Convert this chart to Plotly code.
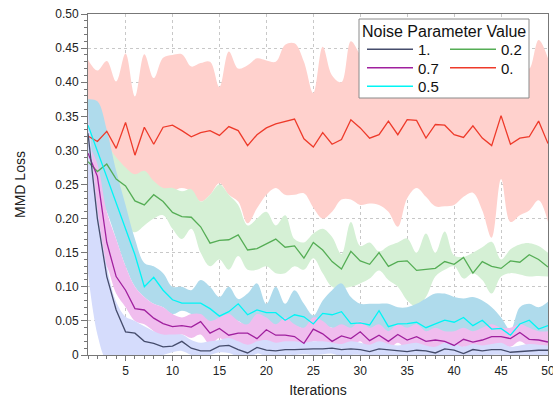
import plotly.graph_objects as go

iterations = list(range(1, 51))

# mean curves
mean_1 = [0.325, 0.200, 0.115, 0.066, 0.034, 0.032, 0.020, 0.017, 0.012, 0.013,
          0.020, 0.010, 0.006, 0.006, 0.013, 0.014, 0.008, 0.003, 0.011, 0.007,
          0.006, 0.008, 0.008, 0.009, 0.009, 0.009, 0.010, 0.008, 0.009, 0.008,
          0.005, 0.009, 0.008, 0.006, 0.005, 0.007, 0.006, 0.003, 0.009, 0.007,
          0.002, 0.008, 0.006, 0.008, 0.008, 0.004, 0.005, 0.007, 0.007, 0.007]
mean_07 = [0.296, 0.262, 0.165, 0.115, 0.095, 0.068, 0.066, 0.054, 0.046, 0.0415,
           0.043, 0.041, 0.049, 0.032, 0.039, 0.029, 0.032, 0.032, 0.024, 0.037,
           0.029, 0.029, 0.027, 0.017, 0.038, 0.031, 0.020, 0.028, 0.024, 0.034,
           0.021, 0.029, 0.020, 0.030, 0.022, 0.027, 0.020, 0.022, 0.020, 0.014,
           0.023, 0.019, 0.022, 0.027, 0.027, 0.024, 0.033, 0.023, 0.022, 0.019]
mean_05 = [0.337, 0.299, 0.261, 0.223, 0.185, 0.147, 0.100, 0.114, 0.095, 0.081,
           0.076, 0.076, 0.076, 0.068, 0.057, 0.0635, 0.075, 0.059, 0.066, 0.062,
           0.062, 0.051, 0.059, 0.056, 0.0455, 0.061, 0.059, 0.0635, 0.046, 0.047,
           0.044, 0.065, 0.0415, 0.0455, 0.046, 0.048, 0.040, 0.0455, 0.051, 0.048,
           0.055, 0.043, 0.051, 0.038, 0.039, 0.029, 0.0455, 0.051, 0.038, 0.043]
mean_02 = [0.2835, 0.269, 0.280, 0.258, 0.248, 0.226, 0.220, 0.235, 0.225, 0.209,
           0.203, 0.202, 0.188, 0.164, 0.168, 0.169, 0.176, 0.154, 0.156, 0.163,
           0.170, 0.158, 0.160, 0.142, 0.165, 0.154, 0.137, 0.126, 0.152, 0.138,
           0.133, 0.150, 0.130, 0.137, 0.138, 0.124, 0.126, 0.127, 0.137, 0.133,
           0.143, 0.120, 0.137, 0.130, 0.127, 0.138, 0.136, 0.147, 0.140, 0.129]
mean_0 = [0.321, 0.313, 0.328, 0.303, 0.341, 0.293, 0.334, 0.309, 0.334, 0.337,
          0.329, 0.320, 0.326, 0.329, 0.322, 0.335, 0.329, 0.307, 0.323, 0.333,
          0.339, 0.343, 0.346, 0.317, 0.305, 0.326, 0.309, 0.316, 0.345, 0.333,
          0.318, 0.323, 0.343, 0.323, 0.345, 0.344, 0.318, 0.338, 0.337, 0.323,
          0.319, 0.336, 0.318, 0.307, 0.351, 0.309, 0.318, 0.320, 0.343, 0.310]

# band bounds
up_1 = [0.365, 0.215, 0.13, 0.078, 0.056, 0.05, 0.042, 0.035, 0.03, 0.03,
        0.03, 0.022, 0.018, 0.02, 0.022, 0.025, 0.02, 0.015, 0.02, 0.022,
        0.018, 0.02, 0.02, 0.018, 0.02, 0.02, 0.018, 0.016, 0.02, 0.018,
        0.015, 0.02, 0.016, 0.014, 0.016, 0.018, 0.014, 0.012, 0.018, 0.016,
        0.012, 0.016, 0.014, 0.016, 0.018, 0.012, 0.014, 0.016, 0.015, 0.014]
lo_1 = [0.12, 0.03, -0.01, -0.02, -0.015, -0.01, 0.0, -0.005, 0.0, 0.004,
        0.006, 0.0, -0.004, 0.0, 0.004, 0.003, -0.003, -0.006, 0.002, -0.002,
        -0.004, 0.0, 0.0, 0.001, 0.0, 0.001, 0.002, -0.002, 0.0, 0.0,
        -0.004, 0.0, -0.002, -0.003, -0.004, -0.001, -0.003, -0.006, 0.0, -0.002,
        -0.007, 0.0, -0.003, 0.0, 0.0, -0.004, -0.003, -0.002, -0.002, -0.002]
up_07 = [0.31, 0.28, 0.21, 0.17, 0.13, 0.10, 0.085, 0.075, 0.07, 0.06,
         0.055, 0.06, 0.06, 0.05, 0.055, 0.06, 0.05, 0.045, 0.06, 0.055,
         0.045, 0.055, 0.045, 0.04, 0.055, 0.05, 0.04, 0.045, 0.04, 0.05,
         0.04, 0.045, 0.035, 0.045, 0.04, 0.045, 0.035, 0.04, 0.035, 0.035,
         0.04, 0.035, 0.04, 0.045, 0.04, 0.04, 0.045, 0.04, 0.035, 0.035]
lo_07 = [0.20, 0.15, 0.13, 0.09, 0.07, 0.05, 0.045, 0.035, 0.025, 0.025,
         0.03, 0.025, 0.03, 0.015, 0.025, 0.015, 0.015, 0.01, 0.01, 0.02,
         0.012, 0.005, 0.012, 0.005, 0.02, 0.015, 0.005, 0.012, 0.01, 0.02,
         0.005, 0.015, 0.008, 0.018, 0.008, 0.015, 0.005, 0.01, 0.008, 0.003,
         0.012, 0.008, 0.01, 0.015, 0.015, 0.012, 0.02, 0.012, 0.01, 0.008]
up_05 = [0.375, 0.372, 0.33, 0.27, 0.22, 0.17, 0.135, 0.13, 0.12, 0.10,
         0.10, 0.095, 0.11, 0.10, 0.085, 0.10, 0.082, 0.09, 0.105, 0.075,
         0.10, 0.075, 0.095, 0.075, 0.058, 0.08, 0.095, 0.105, 0.085, 0.075,
         0.075, 0.075, 0.075, 0.07, 0.07, 0.075, 0.083, 0.09, 0.09, 0.085,
         0.083, 0.085, 0.08, 0.07, 0.055, 0.037, 0.07, 0.075, 0.07, 0.078]
lo_05 = [0.25, 0.24, 0.21, 0.17, 0.13, 0.10, 0.085, 0.075, 0.07, 0.06,
         0.065, 0.06, 0.05, 0.045, 0.04, 0.045, 0.05, 0.04, 0.048, 0.045,
         0.04, 0.035, 0.042, 0.038, 0.035, 0.04, 0.04, 0.035, 0.038, 0.035,
         0.03, 0.03, 0.028, 0.03, 0.028, 0.03, 0.025, 0.028, 0.03, 0.025,
         0.022, 0.025, 0.025, 0.015, 0.01, 0.02, 0.025, 0.025, 0.022, 0.025]
up_02 = [0.31, 0.295, 0.305, 0.29, 0.275, 0.265, 0.27, 0.255, 0.245, 0.245,
         0.24, 0.243, 0.225, 0.235, 0.25, 0.235, 0.22, 0.19, 0.20, 0.21,
         0.19, 0.205, 0.17, 0.165, 0.178, 0.185, 0.173, 0.148, 0.195, 0.16,
         0.165, 0.152, 0.16, 0.165, 0.171, 0.15, 0.178, 0.15, 0.181, 0.146,
         0.144, 0.15, 0.158, 0.166, 0.14, 0.155, 0.162, 0.164, 0.16, 0.15]
lo_02 = [0.26, 0.25, 0.24, 0.215, 0.19, 0.18, 0.19, 0.20, 0.205, 0.185,
         0.17, 0.185, 0.15, 0.13, 0.14, 0.125, 0.145, 0.125, 0.125, 0.13,
         0.12, 0.12, 0.13, 0.125, 0.142, 0.12, 0.10, 0.098, 0.10, 0.105,
         0.112, 0.124, 0.11, 0.10, 0.08, 0.071, 0.085, 0.115, 0.125, 0.13,
         0.112, 0.12, 0.11, 0.09, 0.115, 0.12, 0.118, 0.115, 0.116, 0.115]
up_0 = [0.433, 0.417, 0.431, 0.401, 0.442, 0.379, 0.441, 0.406, 0.436, 0.440,
        0.441, 0.423, 0.428, 0.430, 0.393, 0.445, 0.420, 0.425, 0.435, 0.432,
        0.430, 0.455, 0.457, 0.430, 0.384, 0.452, 0.410, 0.400, 0.460, 0.440,
        0.420, 0.445, 0.430, 0.450, 0.420, 0.440, 0.430, 0.450, 0.425, 0.440,
        0.430, 0.445, 0.420, 0.440, 0.450, 0.425, 0.440, 0.420, 0.462, 0.435]
lo_0 = [0.205, 0.20, 0.215, 0.21, 0.225, 0.235, 0.23, 0.215, 0.235, 0.24,
        0.245, 0.24, 0.225, 0.235, 0.252, 0.235, 0.225, 0.193, 0.215, 0.235,
        0.245, 0.235, 0.235, 0.237, 0.216, 0.20, 0.21, 0.228, 0.228, 0.22,
        0.222, 0.22, 0.21, 0.188, 0.23, 0.245, 0.232, 0.218, 0.218, 0.22,
        0.232, 0.238, 0.212, 0.172, 0.258, 0.195, 0.205, 0.212, 0.227, 0.195]

W, H = 553, 398
ml, mr, mt, mb = 88, 5, 14, 43
pw, ph = W - ml - mr, H - mt - mb

def px_x(p):
    return (p - ml) / pw

def px_y(p):
    return (H - mb - p) / ph

series = [
    # name, mean, upper, lower, line colour, band colour, legend id, legend px position
    ("0.", mean_0, up_0, lo_0, "#ee3a2a", "#ffd1cd", "legend5", (445, 68)),
    ("0.2", mean_02, up_02, lo_02, "#55ad55", "#d5f0d5", "legend4", (445, 49.5)),
    ("0.5", mean_05, up_05, lo_05, "#00f5f5", "#afdbec", "legend3", (362, 86.5)),
    ("0.7", mean_07, up_07, lo_07, "#a0209e", "#f0bdee", "legend2", (362, 68)),
    ("1.", mean_1, up_1, lo_1, "#454c6c", "#d5dcfc", "legend", (362, 49.5)),
]

fig = go.Figure()
for name, m, up, lo, lc, bc, lg, pos in series:
    fig.add_trace(go.Scatter(x=iterations, y=up, mode="lines",
                             line=dict(width=0, shape="spline", color=bc),
                             showlegend=False, hoverinfo="skip"))
    fig.add_trace(go.Scatter(x=iterations, y=lo, mode="lines", fill="tonexty",
                             fillcolor=bc,
                             line=dict(width=0, shape="spline", color=bc),
                             showlegend=False, hoverinfo="skip"))
for name, m, up, lo, lc, bc, lg, pos in series:
    fig.add_trace(go.Scatter(x=iterations, y=m, mode="lines", name=name,
                             line=dict(width=1.3, color=lc), legend=lg))

fig.add_shape(type="rect", xref="paper", yref="paper",
              x0=px_x(359), x1=px_x(529), y0=px_y(98), y1=px_y(19),
              fillcolor="white", line=dict(color="#8a8a8a", width=1),
              layer="above")

fig.add_annotation(text="Noise Parameter Value", xref="paper", yref="paper",
                   x=px_x(444), y=px_y(31.5), xanchor="center", yanchor="middle",
                   showarrow=False, font=dict(size=16, color="#111"))

font_fam = "Liberation Sans, Arial, sans-serif"
legend_common = dict(xanchor="left", yanchor="middle", bgcolor="rgba(0,0,0,0)",
                     borderwidth=0, itemwidth=46, font=dict(size=15, color="#111"))
layout_legends = {}
for name, m, up, lo, lc, bc, lg, pos in series:
    layout_legends[lg] = dict(x=px_x(pos[0]), y=px_y(pos[1]), **legend_common)

fig.update_layout(
    width=W, height=H, autosize=False,
    margin=dict(l=ml, r=mr, t=mt, b=mb, autoexpand=False),
    paper_bgcolor="white", plot_bgcolor="white",
    font=dict(family=font_fam, size=12, color="#222"),
    showlegend=True,
    **layout_legends,
)

fig.update_xaxes(
    range=[1, 50], tickvals=[5, 10, 15, 20, 25, 30, 35, 40, 45, 50],
    ticks="outside", ticklen=5, tickcolor="#777", tickwidth=1,
    showline=True, linecolor="#777", linewidth=1, mirror=True,
    showgrid=True, gridcolor="#c8c8c8", griddash="dot", gridwidth=1,
    zeroline=False, ticklabeloverflow="allow", automargin=False,
    minor=dict(tickmode="linear", tick0=0, dtick=1, ticks="outside",
               ticklen=3, tickcolor="#777", showgrid=False),
    title=dict(text="Iterations", standoff=10),
    tickfont=dict(size=12),
)
y_ticks = [0, 0.05, 0.1, 0.15, 0.2, 0.25, 0.3, 0.35, 0.4, 0.45, 0.5]
y_labels = ["0", "0.05", "0.10", "0.15", "0.20", "0.25", "0.30", "0.35", "0.40", "0.45", "0.50"]
fig.update_yaxes(
    range=[0, 0.5], tickvals=y_ticks, ticktext=y_labels,
    ticks="outside", ticklen=6, tickcolor="#777", tickwidth=1,
    showline=True, linecolor="#777", linewidth=1, mirror=True,
    showgrid=True, gridcolor="#c8c8c8", griddash="dot", gridwidth=1,
    zeroline=False, ticklabeloverflow="allow", automargin=False,
    minor=dict(tickmode="linear", tick0=0, dtick=0.01, ticks="outside",
               ticklen=3, tickcolor="#777", showgrid=False),
    title=dict(text="MMD Loss", standoff=26),
    tickfont=dict(size=12),
)

fig.write_html("out.html")
